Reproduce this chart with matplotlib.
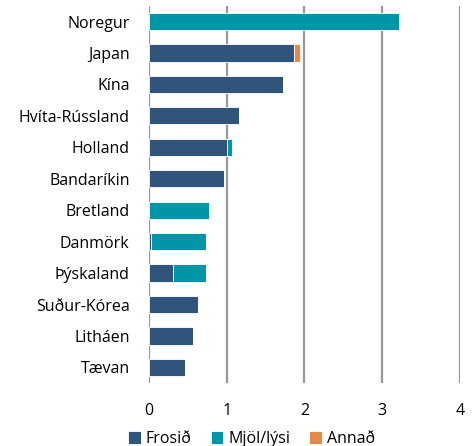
import numpy as np
import matplotlib
matplotlib.use("Agg")
import matplotlib.pyplot as plt

plt.rcParams['font.family'] = ['Open Sans', 'DejaVu Sans']

countries = ["Noregur", "Japan", "Kína", "Hvíta-Rússland", "Holland", "Bandaríkin",
             "Bretland", "Danmörk", "Þýskaland", "Suður-Kórea", "Litháen", "Tævan"]
frosid = [0.0, 1.87, 1.72, 1.16, 1.00, 0.97, 0.0, 0.03, 0.31, 0.63, 0.56, 0.46]
mjol = [3.22, 0.0, 0.0, 0.0, 0.07, 0.0, 0.77, 0.71, 0.42, 0.0, 0.0, 0.0]
annad = [0.0, 0.07, 0.0, 0.0, 0.0, 0.0, 0.0, 0.0, 0.0, 0.0, 0.0, 0.0]

c_frosid = "#31557A"
c_mjol = "#0096A8"
c_annad = "#E3894A"

fig = plt.figure(figsize=(4.76, 4.46), dpi=100)
ax = fig.add_axes([0.313, 0.141, 0.653, 0.846])

y = np.arange(len(countries))
h = 0.55
frosid = np.array(frosid)
mjol = np.array(mjol)
annad = np.array(annad)
ax.barh(y, frosid, height=h, color=c_frosid, edgecolor="white", linewidth=0.6, label="Frosið", zorder=3)
ax.barh(y, mjol, left=frosid, height=h, color=c_mjol, edgecolor="white", linewidth=0.6, label="Mjöl/lýsi", zorder=3)
ax.barh(y, annad, left=frosid + mjol, height=h, color=c_annad, edgecolor="white", linewidth=0.6, label="Annað", zorder=3)

ax.set_yticks(y)
ax.set_yticklabels(countries, fontsize=11.5)
ax.set_ylim(len(countries) - 0.5, -0.5)
ax.set_xlim(0, 4)
ax.set_xticks([0, 1, 2, 3, 4])
ax.tick_params(axis="x", length=0, pad=14, labelsize=11.5)
ax.tick_params(axis="y", length=0, pad=14)
ax.grid(axis="x", color="#999999", linewidth=1.6, zorder=0)
for s in ax.spines.values():
    s.set_visible(False)

ax.legend(loc="upper center", bbox_to_anchor=(0.33, -0.11), ncol=3, frameon=False,
          fontsize=11.5, handlelength=0.8, handleheight=0.8, handletextpad=0.3,
          columnspacing=1.2, borderaxespad=0)

fig.savefig("out.png", dpi=100)
